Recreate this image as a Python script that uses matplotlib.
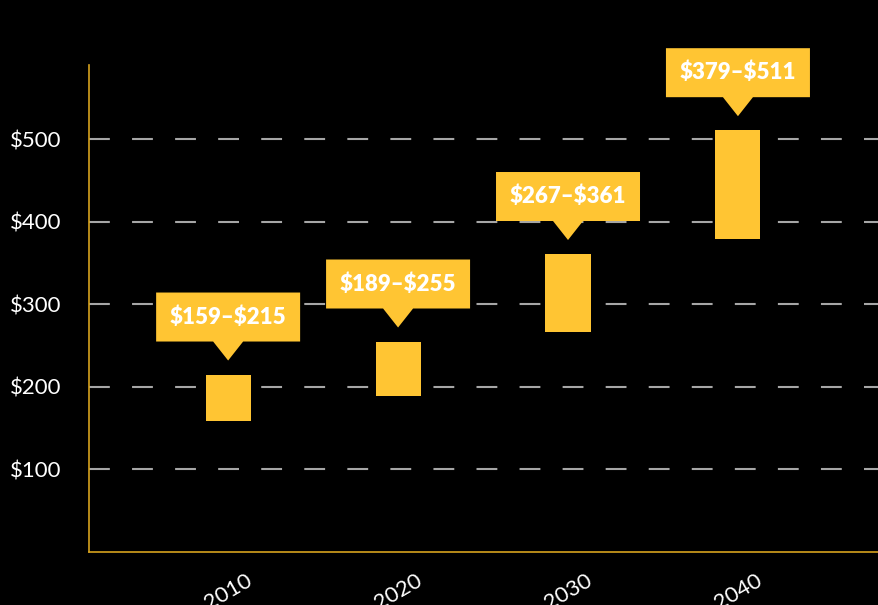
import matplotlib.pyplot as plt
import matplotlib.transforms as mtransforms
from matplotlib.patches import Polygon

years = ["2010", "2020", "2030", "2040"]
low = [159, 189, 267, 379]
high = [215, 255, 361, 511]
yticks = [100, 200, 300, 400, 500]
ytick_labels = [r"\$100", r"\$200", r"\$300", r"\$400", r"\$500"]

yellow = "#ffc533"
gold = "#d6a21e"

plt.rcParams["font.family"] = ["Lato", "DejaVu Sans"]
plt.rcParams["lines.scale_dashes"] = False

fig = plt.figure(figsize=(8.79, 6.05), dpi=100, facecolor="black")
ax = fig.add_axes([0.101, 0.0876, 0.899, 0.805], facecolor="black")

x = list(range(len(years)))
heights = [h - l for l, h in zip(low, high)]
ax.bar(x, heights, bottom=low, width=0.265, color=yellow, zorder=3)

ax.set_xlim(-0.82, 3.83)
ax.set_ylim(0, 590)
ax.set_yticks(yticks)
ax.set_yticklabels(ytick_labels)
ax.set_xticks(x)
ax.set_xticklabels(years, rotation=30)
ax.tick_params(axis="both", length=0, colors="white", labelsize=16)
ax.tick_params(axis="y", pad=20)
ax.tick_params(axis="x", pad=13)

ax.yaxis.grid(True, color="#a6a6a6", linewidth=1.5, linestyle=(0, (15, 16)), zorder=1)
ax.set_axisbelow(True)

for side in ["top", "right"]:
    ax.spines[side].set_visible(False)
for side in ["left", "bottom"]:
    ax.spines[side].set_color(gold)
    ax.spines[side].set_linewidth(1.2)

# callout boxes above each bar, sized in pixels
px = 1 / 100
for xi, lo, hi in zip(x, low, high):
    trans = fig.dpi_scale_trans + mtransforms.ScaledTranslation(xi, hi, ax.transData)
    tip, bottom, top, half, arrow = 14, 33, 82, 72, 15
    verts = [
        (0, tip * px),
        (-arrow * px, bottom * px),
        (-half * px, bottom * px),
        (-half * px, top * px),
        (half * px, top * px),
        (half * px, bottom * px),
        (arrow * px, bottom * px),
    ]
    ax.add_patch(Polygon(verts, closed=True, transform=trans, facecolor=yellow,
                         edgecolor="none", zorder=4, clip_on=False))
    ax.text(0, (bottom + top) / 2 * px, rf"\${lo}–\${hi}", transform=trans,
            ha="center", va="center", color="white", fontsize=16,
            fontweight="heavy", zorder=5)

fig.savefig("out.png", dpi=100, facecolor="black")
